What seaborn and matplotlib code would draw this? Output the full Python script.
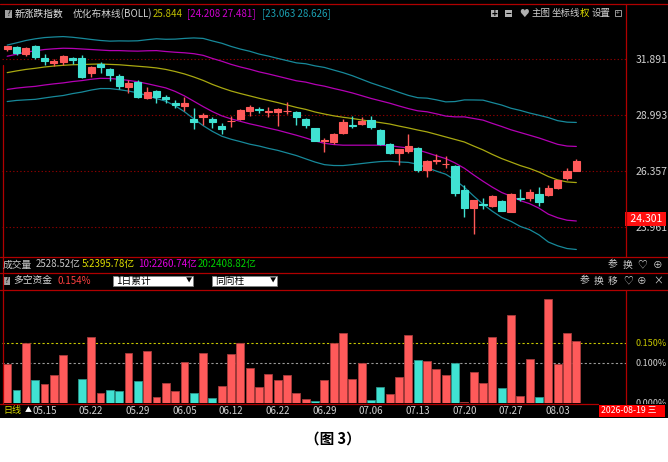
import matplotlib
matplotlib.use("Agg")
import matplotlib.pyplot as plt
from matplotlib.patches import Rectangle
from matplotlib.lines import Line2D
from matplotlib.ticker import NullLocator
import numpy as np
import pandas as pd
import seaborn as sns

# ---- values ----
dates = ["05.15", "05.22", "05.29", "06.05", "06.12", "06.22",
         "06.29", "07.06", "07.13", "07.20", "07.27", "08.03"]
date_pos = [4, 9, 14, 19, 24, 29, 34, 39, 44, 49, 54, 59]

opens = [32.43, 32.57, 32.16, 32.62, 31.97, 31.66, 31.71, 31.95, 31.95, 31.12,
         31.62, 31.33, 30.99, 30.39, 30.69, 29.86, 30.20, 29.87, 29.60, 29.44,
         28.78, 28.88, 28.78, 28.46, 28.68, 28.81, 29.21, 29.29, 29.15, 29.16,
         29.19, 29.16, 28.80, 28.34, 27.76, 27.70, 28.10, 28.48, 28.54, 28.75,
         28.26, 27.59, 27.17, 27.29, 27.39, 26.40, 26.81, 26.66, 26.59, 25.52,
         24.73, 24.90, 24.82, 25.05, 24.58, 25.18, 25.16, 25.33, 25.31, 25.62,
         26.03, 26.36]
highs = [32.63, 32.63, 32.55, 32.66, 32.16, 31.88, 32.11, 32.00, 32.13, 31.52,
         31.73, 31.41, 31.09, 30.77, 30.75, 30.43, 30.25, 30.00, 29.74, 29.90,
         29.32, 29.07, 28.91, 28.59, 28.94, 29.29, 29.49, 29.40, 29.40, 29.34,
         29.64, 29.21, 28.84, 28.38, 27.86, 28.12, 28.80, 28.94, 28.87, 28.94,
         28.31, 27.64, 27.37, 28.05, 27.45, 26.86, 27.13, 27.06, 26.63, 25.74,
         25.10, 25.16, 25.29, 25.07, 25.37, 25.57, 25.57, 25.63, 25.74, 25.97,
         26.48, 26.90]
lows = [32.32, 32.11, 32.08, 31.88, 31.57, 31.52, 31.57, 31.62, 30.87, 30.92,
        31.16, 30.70, 30.29, 30.12, 29.83, 29.79, 29.57, 29.57, 29.36, 29.19,
        28.30, 28.50, 28.34, 28.07, 28.43, 28.77, 28.94, 29.11, 28.88, 28.46,
        29.02, 28.50, 28.38, 27.72, 27.24, 27.58, 28.07, 28.34, 28.50, 28.30,
        27.55, 27.15, 26.63, 27.17, 26.32, 26.08, 26.68, 26.50, 25.26, 24.38,
        23.68, 24.69, 24.79, 24.62, 24.56, 25.04, 25.06, 24.83, 25.27, 25.58,
        25.96, 26.34]
closes = [32.58, 32.24, 32.47, 32.02, 31.78, 31.78, 32.06, 31.84, 30.92, 31.44,
          31.48, 31.04, 30.46, 30.63, 29.91, 30.17, 29.88, 29.77, 29.49, 29.57,
          28.67, 28.99, 28.67, 28.33, 28.72, 29.24, 29.41, 29.26, 29.17, 29.29,
          29.21, 28.87, 28.50, 27.75, 27.79, 28.07, 28.66, 28.45, 28.71, 28.40,
          27.59, 27.19, 27.34, 27.50, 26.40, 26.79, 26.84, 26.69, 25.40, 24.76,
          25.07, 24.86, 25.27, 24.64, 25.35, 25.15, 25.45, 24.99, 25.62, 25.95,
          26.37, 26.83]

# BOLL middle line and half width of the inner band
boll_mid = [31.16, 31.25, 31.33, 31.39, 31.46, 31.51, 31.55, 31.58, 31.59, 31.61,
            31.62, 31.60, 31.58, 31.54, 31.50, 31.46, 31.41, 31.33, 31.22, 31.09,
            30.93, 30.75, 30.54, 30.36, 30.20, 30.07, 29.95, 29.83, 29.72, 29.61,
            29.49, 29.37, 29.27, 29.14, 29.04, 28.95, 28.88, 28.82, 28.75, 28.68,
            28.62, 28.55, 28.45, 28.36, 28.26, 28.17, 28.05, 27.93, 27.81, 27.69,
            27.50, 27.32, 27.11, 26.92, 26.76, 26.60, 26.47, 26.31, 26.11, 25.96,
            25.87, 25.844]
boll_w = [0.88, 0.90, 0.93, 0.95, 0.95, 0.94, 0.93, 0.89, 0.85, 0.80,
          0.76, 0.75, 0.77, 0.79, 0.82, 0.88, 0.94, 0.97, 1.04, 1.14,
          1.25, 1.34, 1.38, 1.41, 1.40, 1.39, 1.39, 1.37, 1.37, 1.36,
          1.36, 1.36, 1.39, 1.40, 1.41, 1.38, 1.34, 1.28, 1.21, 1.14,
          1.08, 1.03, 0.99, 0.95, 0.94, 0.98, 1.00, 1.01, 1.09, 1.21,
          1.32, 1.42, 1.47, 1.51, 1.51, 1.54, 1.54, 1.57, 1.62, 1.62,
          1.63, 1.637]
K_OUTER = 1.7  # outer band multiplier (2.782 / 1.637)

# 多空资金 (%) and bar direction
dk_vals = [0.096, 0.031, 0.149, 0.056, 0.047, 0.068, 0.118, 0.000, 0.058, 0.163,
           0.024, 0.031, 0.028, 0.123, 0.054, 0.129, 0.013, 0.048, 0.029, 0.101,
           0.023, 0.125, 0.011, 0.042, 0.122, 0.150, 0.086, 0.040, 0.072, 0.057,
           0.068, 0.023, 0.009, 0.003, 0.056, 0.150, 0.175, 0.060, 0.098, 0.006,
           0.038, 0.022, 0.063, 0.168, 0.106, 0.104, 0.084, 0.068, 0.098, 0.002,
           0.076, 0.050, 0.165, 0.037, 0.220, 0.017, 0.108, 0.015, 0.258, 0.096,
           0.175, 0.154]
dk_dir = list("UDUDUUUUDU" "UDDUDUUUUU" "DUDUUUUUUU" "UUUDUUUUUD"
              "DUUUDUUUDU" "UUUDUUUDUU" "UU")

price_ticks = [23.961, 26.357, 28.993, 31.891]
dk_ticks = [0.150, 0.100, 0.000]

RED = "#ff5a5a"
CYAN = "#40e2d2"
OLIVE = "#a8a810"
MAGENTA = "#b400b4"
TEAL = "#17899a"
FRAME = "#b00000"
GREY = "#d0d0d0"

sns.set_theme(style="dark", rc={"axes.facecolor": "black",
                                "figure.facecolor": "white",
                                "savefig.facecolor": "white"})
plt.rcParams["font.family"] = ["Noto Sans CJK SC", "DejaVu Sans"]

W, H = 668, 462
fig = plt.figure(figsize=(W / 100, H / 100), dpi=100)


def fx(x):
    return x / W


def fy(y):
    return 1 - y / H


def box(x0, y0, x1, y1):
    return [fx(x0), fy(y1), (x1 - x0) / W, (y1 - y0) / H]


def prect(x0, y0, x1, y1, fc, ec="none", lw=0.6, z=1):
    fig.add_artist(Rectangle((fx(x0), fy(y1)), (x1 - x0) / W, (y1 - y0) / H,
                             transform=fig.transFigure, facecolor=fc,
                             edgecolor=ec, linewidth=lw, zorder=z))


def pline(x0, y0, x1, y1, c=FRAME, lw=0.9, z=5):
    fig.add_artist(Line2D([fx(x0), fx(x1)], [fy(y0), fy(y1)],
                          transform=fig.transFigure, color=c, lw=lw, zorder=z))


def txt(x, y, s, c=GREY, size=7, ha="left", z=6, **kw):
    fig.text(fx(x), fy(y), s, color=c, fontsize=size, ha=ha, va="center",
             zorder=z, **kw)


# black screen area
prect(0, 0, W, 418, "black", z=-5)

xlim = ((2 - 7.2) / 9.33, (626 - 7.2) / 9.33)
idx = np.arange(len(opens))

# ---- main panel: candles + BOLL ----
ax1 = fig.add_axes(box(2, 4, 626, 256))
ax1.set_yscale("log")

bands = pd.DataFrame({"i": idx, "mid": boll_mid})
w = np.array(boll_w)
bands["up1"] = bands["mid"] + w
bands["dn1"] = bands["mid"] - w
bands["up2"] = bands["mid"] + K_OUTER * w
bands["dn2"] = bands["mid"] - K_OUTER * w
long = bands.melt("i", var_name="band", value_name="price")
sns.lineplot(data=long, x="i", y="price", hue="band", ax=ax1, legend=False,
             palette={"mid": OLIVE, "up1": MAGENTA, "dn1": MAGENTA,
                      "up2": TEAL, "dn2": TEAL},
             linewidth=0.9, zorder=2)

k = pd.DataFrame({"i": idx, "o": opens, "h": highs, "l": lows, "c": closes})
col = np.where(k["c"] >= k["o"], RED, CYAN)
ax1.vlines(k["i"], k["l"], k["h"], colors=col, lw=1.0, zorder=3)
ax1.bar(k["i"], (k["c"] - k["o"]).abs(), bottom=np.minimum(k["o"], k["c"]),
        width=0.78, color=col, edgecolor=col, linewidth=0.8, zorder=4)

ax1.set_xlim(*xlim)
ax1.set_ylim(22.807, 35.02)
ax1.yaxis.set_minor_locator(NullLocator())
ax1.set_yticks(price_ticks, [f"{v:.3f}" for v in price_ticks])
ax1.yaxis.tick_right()
ax1.tick_params(axis="y", length=0, pad=7, labelsize=7.5, labelcolor=GREY)
ax1.set_xticks([])
ax1.grid(axis="y", color="#8b0000", ls=(0, (1.2, 2)), lw=0.8)
ax1.grid(axis="x", visible=False)
ax1.set_xlabel("")
ax1.set_ylabel("")
for s in ax1.spines.values():
    s.set_visible(False)
ax1.text(1.0025, 24.301, " 24.301 ", transform=ax1.get_yaxis_transform(),
         color="white", fontsize=7.5, va="center", ha="left", clip_on=False,
         bbox=dict(boxstyle="square,pad=0.2", fc="#ff1010", ec="none"))

# ---- lower panel: 多空资金 ----
ax2 = fig.add_axes(box(2, 289, 626, 403))
dk = pd.DataFrame({"i": idx, "val": dk_vals, "dir": dk_dir})
sns.barplot(data=dk, x="i", y="val", hue="dir", palette={"U": RED, "D": CYAN},
            dodge=False, native_scale=True, width=0.85, errorbar=None,
            saturation=1, legend=False, ax=ax2)
for p in ax2.patches:
    fc = np.array(p.get_facecolor()[:3])
    p.set_edgecolor(tuple(fc * 0.65))
    p.set_linewidth(0.6)
ax2.axhline(0.150, color="#c8c800", ls=(0, (2, 2)), lw=0.8, zorder=0.5)
ax2.axhline(0.100, color="#9a9a9a", ls=(0, (2, 2)), lw=0.8, zorder=0.5)
ax2.set_xlim(*xlim)
ax2.set_ylim(-0.00125, 0.28375)
ax2.set_yticks(dk_ticks, [f"{v:.3f}%" for v in dk_ticks])
ax2.yaxis.tick_right()
ax2.tick_params(axis="y", length=0, pad=7, labelsize=6.5)
for lab, c in zip(ax2.get_yticklabels(), ["#c8c800", GREY, GREY]):
    lab.set_color(c)
ax2.set_xticks([])
ax2.grid(False)
ax2.set_xlabel("")
ax2.set_ylabel("")
for s in ax2.spines.values():
    s.set_visible(False)

# ---- date row ----
axd = fig.add_axes(box(2, 403.5, 668, 418))
axd.set_zorder(2)
axd.set_facecolor("black")
axd.set_xlim(xlim[0], xlim[0] + (xlim[1] - xlim[0]) * 666 / 624)
axd.set_ylim(0, 1)
axd.set_xticks([])
axd.set_yticks([])
axd.grid(False)
for s in axd.spines.values():
    s.set_visible(False)
for i, d in zip(date_pos, dates):
    axd.text(i, 0.45, d, color=GREY, fontsize=7, ha="center", va="center")

txt(3, 410.5, "日线", "#d8d800", 6.5)
txt(24.5, 410.5, "▲", "white", 5)
prect(599, 404.5, 665, 416.5, "#ff0000", z=3)
txt(601, 410.5, "2026-08-19 三", "white", 6.3)

# ---- frame lines ----
pline(0, 3.5, 668, 3.5)
pline(2.5, 65, 2.5, 403.5)
pline(626, 3.5, 626, 256.5)
pline(626, 289.5, 626, 403.5)
for yy in (256.5, 272.5, 289.5, 403.5):
    pline(0, yy, 668 if yy < 400 else 598, yy)

# ---- header texts ----
prect(5, 10, 12, 18, "#a0a0a0", z=3)
txt(8.5, 14, "?", "black", 6, ha="center")
txt(15, 14, "新涨跌指数", "#e8e8e8")
txt(73, 14, "优化布林线(BOLL)")
txt(153, 14, "25.844", "#c0c000")
txt(187, 14, "[24.208 27.481]", "#d000d0")
txt(262, 14, "[23.063 28.626]", "#1aa0b2")

prect(491, 10, 498, 17, "#b0b0b0", z=3)
txt(494.5, 13.5, "+", "black", 7, ha="center", fontweight="bold")
prect(505, 10, 512, 17, "#b0b0b0", z=3)
txt(508.5, 13.5, "−", "black", 7, ha="center", fontweight="bold")
txt(519, 13.5, "♥", "#b0b0b0", 7)
txt(532, 13.5, "主图", size=6.8)
txt(552, 13.5, "坐标线", size=6.8)
txt(580, 13.5, "权", "#e0e000", 6.8)
txt(592, 13.5, "设置", size=6.8)
prect(615, 10, 621, 16, "none", ec="#b0b0b0", z=3)
txt(618, 13, "+", "#b0b0b0", 5, ha="center")

txt(3, 264.5, "成交量", "#c8c8c8")
txt(36, 264.5, "2528.52亿", "#c8c8c8")
txt(82, 264.5, "5:2395.78亿", "#e0e000")
txt(138, 264.5, "10:2260.74亿", "#e000e0")
txt(198, 264.5, "20:2408.82亿", "#00d000")
for xx, s in zip((608, 623, 637, 653), ("参", "换", "♡", "⊕")):
    txt(xx, 264.5, s, "#d0d0d0", 7)

prect(3, 276.5, 10, 284.5, "#a0a0a0", z=3)
txt(6.5, 280.5, "?", "black", 6, ha="center")
txt(13, 280.5, "多空资金", "#d8d8d8")
txt(57, 280.5, "0.154%", "#ff4040")
prect(113, 275.5, 193, 286, "white", ec="#808080", z=3)
txt(116, 280.8, "1日累计", "black", 7)
txt(189, 280.8, "▼", "black", 4.5, ha="center")
prect(212, 275.5, 277, 286, "white", ec="#808080", z=3)
txt(215, 280.8, "同向柱", "black", 7)
txt(273, 280.8, "▼", "black", 4.5, ha="center")
for xx, s in zip((580, 594, 608, 623, 637, 653), ("参", "换", "移", "♡", "⊕", "×")):
    txt(xx, 280.5, s, "#d0d0d0", 7)

# caption
txt(333, 439, "（图 3）", "black", 10.5, ha="center", fontweight="bold")

fig.savefig("out.png", dpi=100)
